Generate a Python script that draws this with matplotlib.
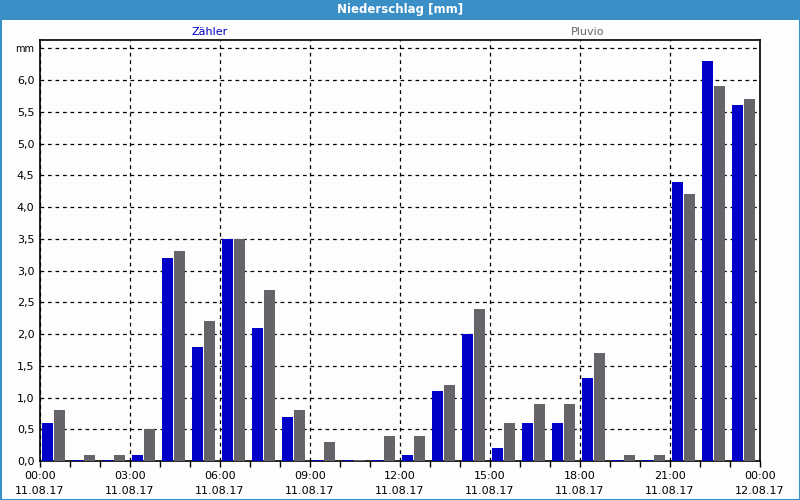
import matplotlib
matplotlib.use("Agg")
import matplotlib.pyplot as plt
from matplotlib.patches import Rectangle
import numpy as np

hours = list(range(24))
zaehler = [0.6, 0.02, 0.02, 0.1, 3.2, 1.8, 3.5, 2.1, 0.7, 0.02, 0.02, 0.02,
           0.1, 1.1, 2.0, 0.2, 0.6, 0.6, 1.3, 0.02, 0.02, 4.4, 6.3, 5.6]
pluvio = [0.8, 0.1, 0.1, 0.5, 3.3, 2.2, 3.5, 2.7, 0.8, 0.3, 0.02, 0.4,
          0.4, 1.2, 2.4, 0.6, 0.9, 0.9, 1.7, 0.1, 0.1, 4.2, 5.9, 5.7]
tick_hours = [0, 3, 6, 9, 12, 15, 18, 21, 24]
tick_labels = ["00:00\n11.08.17", "03:00\n11.08.17", "06:00\n11.08.17",
               "09:00\n11.08.17", "12:00\n11.08.17", "15:00\n11.08.17",
               "18:00\n11.08.17", "21:00\n11.08.17", "00:00\n12.08.17"]
y_ticks = [0.0, 0.5, 1.0, 1.5, 2.0, 2.5, 3.0, 3.5, 4.0, 4.5, 5.0, 5.5, 6.0, 6.5]
y_labels = ["0,0", "0,5", "1,0", "1,5", "2,0", "2,5", "3,0", "3,5", "4,0",
            "4,5", "5,0", "5,5", "6,0", "mm"]
series_names = ["Zähler", "Pluvio"]

blue = "#0000c8"
gray = "#666468"
barblue = "#3a8fc6"

plt.rcParams['font.family'] = ['DejaVu Sans']
fig = plt.figure(figsize=(8, 5), dpi=100, facecolor="#fcfdfc")
ax = fig.add_axes([40/800, 39/500, 720/800, 421/500])
ax.set_facecolor("#fcfdfc")

x = np.array(hours, dtype=float)
w = 0.36
ax.bar(x + 0.06, zaehler, width=w, align="edge", color=blue, zorder=3, linewidth=0)
ax.bar(x + 0.47, pluvio, width=w, align="edge", color=gray, zorder=3, linewidth=0)

ax.set_xlim(0, 24)
ax.set_ylim(0, 6.63)
ax.set_xticks(tick_hours)
ax.set_xticklabels(tick_labels, fontsize=8, linespacing=1.6)
ax.set_xticks(range(25), minor=True)
ax.set_yticks(y_ticks)
ax.set_yticklabels(y_labels, fontsize=8)
ax.tick_params(axis="x", which="both", length=4, direction="out", width=1, pad=3)
ax.tick_params(axis="y", length=0, pad=4)
for lbl in ax.get_yticklabels():
    if lbl.get_text() == "mm":
        lbl.set_fontsize(7)

ax.grid(True, which="major", color="black", linestyle=(0, (3, 3)), linewidth=0.9, zorder=1)
for s in ax.spines.values():
    s.set_linewidth(1.2)
    s.set_color("black")

# title bar
fig.patches.append(Rectangle((0, 1 - 20/500), 1, 20/500, transform=fig.transFigure,
                             facecolor=barblue, edgecolor="none", zorder=0))
fig.text(0.5, 1 - 10/500, "Niederschlag [mm]", color="white", fontsize=8.5,
         fontweight="bold", ha="center", va="center")
# frame border
fig.patches.append(Rectangle((0.5/800, 0.5/500), 799/800, 499/500, transform=fig.transFigure,
                             facecolor="none", edgecolor=barblue, linewidth=1.5, zorder=0))

fig.text(210/800, 1 - 32/500, series_names[0], color=blue, fontsize=8, ha="center", va="center")
fig.text(588/800, 1 - 32/500, series_names[1], color=gray, fontsize=8, ha="center", va="center")

fig.savefig("out.png", dpi=100, facecolor=fig.get_facecolor())
